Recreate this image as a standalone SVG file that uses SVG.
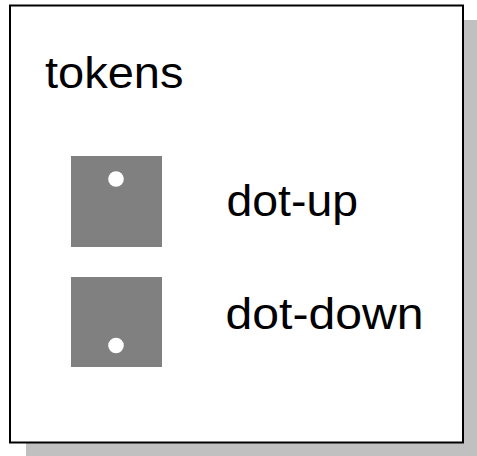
<svg xmlns="http://www.w3.org/2000/svg" width="477" height="456" viewBox="0 0 477 456">
<style>
.lbl{font-family:"Liberation Sans",Arial,sans-serif;font-size:44px;fill:#000}
.tok{fill:#808080}
.dot{fill:#fff}
</style>
<rect x="0" y="0" width="477" height="456" fill="#fff"/>
<g id="frame">
<rect x="26" y="20" width="460" height="445" fill="#c0c0c0"/>
<rect x="10" y="5.5" width="453" height="437" fill="#fff" stroke="#000" stroke-width="2"/>
</g>
<g id="title"><text class="lbl" x="45" y="88" textLength="138.5" lengthAdjust="spacingAndGlyphs">tokens</text></g>
<g id="dot-up">
<rect class="tok" x="71" y="156" width="91" height="91"/>
<circle class="dot" cx="116" cy="179" r="7.8"/>
<text class="lbl" x="226.5" y="216" textLength="131.5" lengthAdjust="spacingAndGlyphs">dot-up</text>
</g>
<g id="dot-down">
<rect class="tok" x="71" y="277" width="91" height="90"/>
<circle class="dot" cx="116" cy="345.5" r="7.8"/>
<text class="lbl" x="225.5" y="329" textLength="198" lengthAdjust="spacingAndGlyphs">dot-down</text>
</g>
<g id="connectors"></g>
</svg>
